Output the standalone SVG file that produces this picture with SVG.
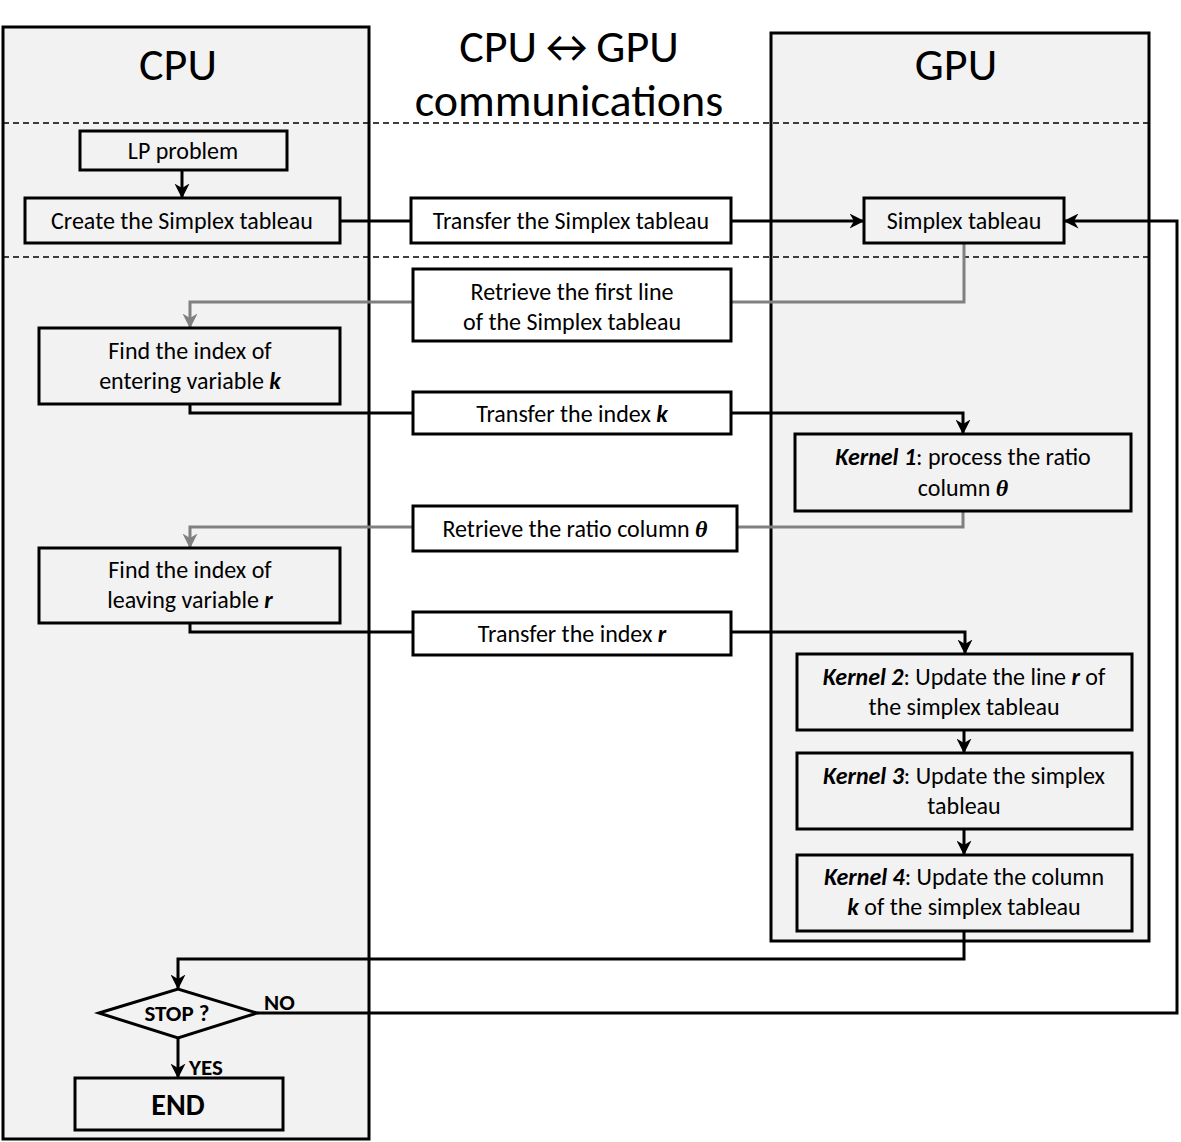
<svg xmlns="http://www.w3.org/2000/svg" width="1181" height="1142" viewBox="0 0 1181 1142">
<defs>
<style>
.panel{fill:#f2f2f2;stroke:#000;stroke-width:3}
.box{fill:#fff;stroke:#000;stroke-width:3}
.gbox{fill:#f2f2f2;stroke:#000;stroke-width:3}
.dash{stroke:#000;stroke-width:1.5;stroke-dasharray:6 4;fill:none}
.t{font-family:Carlito,Lato,"Open Sans",sans-serif;font-size:24px;fill:#000;text-anchor:middle}
.title{font-family:Carlito,Lato,"Open Sans",sans-serif;font-size:46px;font-weight:300;fill:#000;text-anchor:middle}
.b{font-weight:bold;font-style:italic}
.th{font-family:"Liberation Serif",serif;font-weight:bold;font-style:italic}
.lbl{font-family:Carlito,Lato,"Open Sans",sans-serif;font-size:23px;font-weight:bold;fill:#000}
.c{fill:none;stroke:#000;stroke-width:3}
.g{fill:none;stroke:#808080;stroke-width:3}
</style>
<marker id="ab" viewBox="0 0 10 10" refX="9" refY="5" markerWidth="5" markerHeight="5" orient="auto" markerUnits="strokeWidth">
<path d="M0,0 L10,5 L0,10 L3,5 z" fill="#000"/>
</marker>
<marker id="ag" viewBox="0 0 10 10" refX="9" refY="5" markerWidth="5" markerHeight="5" orient="auto" markerUnits="strokeWidth">
<path d="M0,0 L10,5 L0,10 L3,5 z" fill="#808080"/>
</marker>
</defs>
<rect width="1181" height="1142" fill="#fff"/>
<g id="panels">
<rect class="panel" x="3" y="27" width="366" height="1112"/>
<rect class="panel" x="771" y="33" width="378" height="908"/>
<line class="dash" x1="3" y1="123" x2="1149" y2="123"/>
<line class="dash" x1="3" y1="257" x2="1149" y2="257"/>
<text class="title" x="178" y="80">CPU</text>
<text class="title" x="956" y="80">GPU</text>
<text class="title" x="569" y="62">CPU↔GPU</text>
<text class="title" x="569" y="116">communications</text>
</g>
<g id="connectors">
<line class="c" x1="182" y1="170" x2="182" y2="197" marker-end="url(#ab)"/>
<line class="c" x1="340" y1="221" x2="411" y2="221"/>
<line class="c" x1="731" y1="221" x2="863" y2="221" marker-end="url(#ab)"/>
<polyline class="g" points="964,243 964,302 731,302"/>
<polyline class="g" points="413,302 190,302 190,327" marker-end="url(#ag)"/>
<polyline class="c" points="190,404 190,413 413,413"/>
<polyline class="c" points="731,413 963,413 963,433" marker-end="url(#ab)"/>
<polyline class="g" points="963,511 963,527 737,527"/>
<polyline class="g" points="413,527 190,527 190,547" marker-end="url(#ag)"/>
<polyline class="c" points="190,623 190,632 413,632"/>
<polyline class="c" points="731,632 965,632 965,653" marker-end="url(#ab)"/>
<line class="c" x1="964" y1="730" x2="964" y2="752" marker-end="url(#ab)"/>
<line class="c" x1="964" y1="829" x2="964" y2="854" marker-end="url(#ab)"/>
<polyline class="c" points="964,931 964,959 178,959 178,988" marker-end="url(#ab)"/>
<polyline class="c" points="257,1013 1177,1013 1177,221 1065,221" marker-end="url(#ab)"/>
<line class="c" x1="178" y1="1038" x2="178" y2="1077" marker-end="url(#ab)"/>
<text class="lbl" x="264" y="1010">NO</text>
<text class="lbl" x="189" y="1075">YES</text>
</g>
<g id="lp"><rect class="gbox" x="80" y="131" width="207" height="39"/><text class="t" x="183" y="159">LP problem</text></g>
<g id="create"><rect class="gbox" x="25" y="198" width="315" height="45"/><text class="t" x="182" y="229">Create the Simplex tableau</text></g>
<g id="transfer-tableau"><rect class="box" x="411" y="198" width="320" height="45"/><text class="t" x="571" y="229">Transfer the Simplex tableau</text></g>
<g id="gpu-tableau"><rect class="gbox" x="864" y="198" width="200" height="45"/><text class="t" x="964" y="229">Simplex tableau</text></g>
<g id="retrieve-first"><rect class="box" x="413" y="269" width="318" height="72"/><text class="t" x="572" y="300">Retrieve the first line</text><text class="t" x="572" y="330">of the Simplex tableau</text></g>
<g id="find-k"><rect class="gbox" x="39" y="328" width="301" height="76"/><text class="t" x="190" y="359">Find the index of</text><text class="t" x="190" y="389">entering variable <tspan class="b">k</tspan></text></g>
<g id="transfer-k"><rect class="box" x="413" y="392" width="318" height="42"/><text class="t" x="572" y="422">Transfer the index <tspan class="b">k</tspan></text></g>
<g id="kernel1"><rect class="gbox" x="795" y="434" width="336" height="77"/><text class="t" x="963" y="465"><tspan class="b">Kernel 1</tspan>: process the ratio</text><text class="t" x="963" y="496">column <tspan class="th">θ</tspan></text></g>
<g id="retrieve-ratio"><rect class="box" x="413" y="506" width="324" height="45"/><text class="t" x="575" y="537">Retrieve the ratio column <tspan class="th">θ</tspan></text></g>
<g id="find-r"><rect class="gbox" x="39" y="548" width="301" height="75"/><text class="t" x="190" y="578">Find the index of</text><text class="t" x="190" y="608">leaving variable <tspan class="b">r</tspan></text></g>
<g id="transfer-r"><rect class="box" x="413" y="612" width="318" height="43"/><text class="t" x="572" y="642">Transfer the index <tspan class="b">r</tspan></text></g>
<g id="kernel2"><rect class="gbox" x="797" y="654" width="335" height="76"/><text class="t" x="964" y="685"><tspan class="b">Kernel 2</tspan>: Update the line <tspan class="b">r</tspan> of</text><text class="t" x="964" y="715">the simplex tableau</text></g>
<g id="kernel3"><rect class="gbox" x="797" y="753" width="335" height="76"/><text class="t" x="964" y="784"><tspan class="b">Kernel 3</tspan>: Update the simplex</text><text class="t" x="964" y="814">tableau</text></g>
<g id="kernel4"><rect class="gbox" x="797" y="855" width="335" height="76"/><text class="t" x="964" y="885"><tspan class="b">Kernel 4</tspan>: Update the column</text><text class="t" x="964" y="915"><tspan class="b">k</tspan> of the simplex tableau</text></g>
<g id="stop"><polygon class="gbox" points="99,1013 178,989 257,1013 178,1038"/><text class="t" x="177" y="1021" style="font-size:23px;font-weight:bold">STOP ?</text></g>
<g id="end"><rect class="gbox" x="75" y="1078" width="208" height="52"/><text class="t" x="178" y="1115" style="font-size:30px;font-weight:bold">END</text></g>
</svg>
